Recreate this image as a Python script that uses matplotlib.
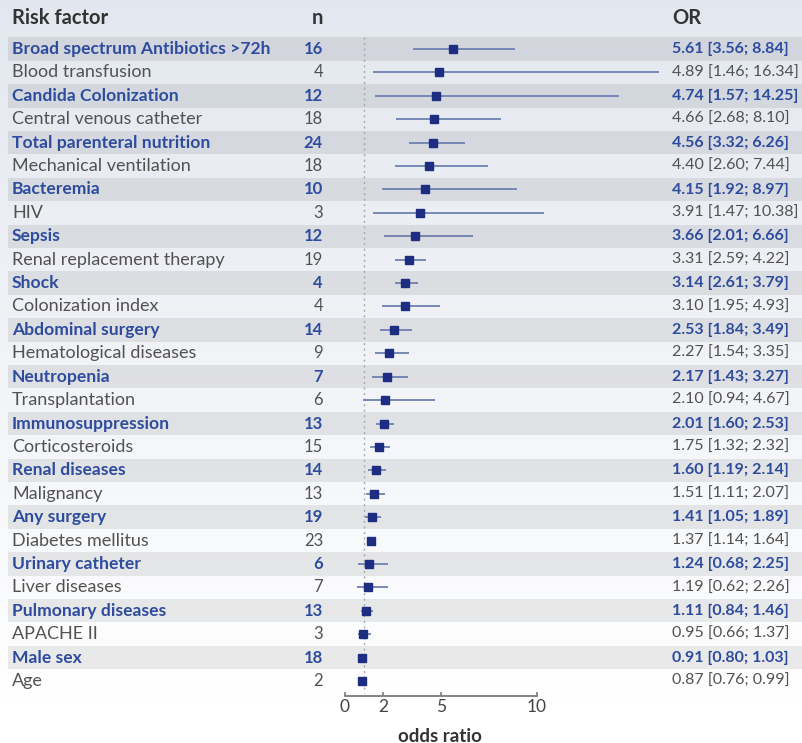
import matplotlib
matplotlib.use("Agg")
import matplotlib.pyplot as plt
import numpy as np
from matplotlib.patches import Rectangle
from matplotlib.transforms import blended_transform_factory

# ───────────────────────── data ───────────────────────── #

factors = [
    "Broad spectrum Antibiotics >72h", "Blood transfusion", "Candida Colonization",
    "Central venous catheter", "Total parenteral nutrition", "Mechanical ventilation",
    "Bacteremia", "HIV", "Sepsis", "Renal replacement therapy", "Shock",
    "Colonization index", "Abdominal surgery", "Hematological diseases", "Neutropenia",
    "Transplantation", "Immunosuppression", "Corticosteroids", "Renal diseases",
    "Malignancy", "Any surgery", "Diabetes mellitus", "Urinary catheter",
    "Liver diseases", "Pulmonary diseases", "APACHE II", "Male sex", "Age",
]
n_studies = [16, 4, 12, 18, 24, 18, 10, 3, 12, 19, 4, 4, 14, 9, 7, 6, 13, 15, 14,
             13, 19, 23, 6, 7, 13, 3, 18, 2]
odds = [5.61, 4.89, 4.74, 4.66, 4.56, 4.40, 4.15, 3.91, 3.66, 3.31, 3.14, 3.10, 2.53,
        2.27, 2.17, 2.10, 2.01, 1.75, 1.60, 1.51, 1.41, 1.37, 1.24, 1.19, 1.11, 0.95,
        0.91, 0.87]
ci_low = [3.56, 1.46, 1.57, 2.68, 3.32, 2.60, 1.92, 1.47, 2.01, 2.59, 2.61, 1.95, 1.84,
          1.54, 1.43, 0.94, 1.60, 1.32, 1.19, 1.11, 1.05, 1.14, 0.68, 0.62, 0.84, 0.66,
          0.80, 0.76]
ci_high = [8.84, 16.34, 14.25, 8.10, 6.26, 7.44, 8.97, 10.38, 6.66, 4.22, 3.79, 4.93,
           3.49, 3.35, 3.27, 4.67, 2.53, 2.32, 2.14, 2.07, 1.89, 1.64, 2.25, 2.26, 1.46,
           1.37, 1.03, 0.99]
x_ticks = [0, 2, 5, 10]

# ───────────────────────── style ───────────────────────── #

W, H = 802, 743
BLUE = "#2e4c9e"
GREY = "#525252"
HEAD = "#333333"
plt.rcParams["font.family"] = ["Lato", "DejaVu Sans"]

fig = plt.figure(figsize=(W / 100, H / 100), dpi=100)

# background gradient (blue-grey at top fading to white)
bg = fig.add_axes([0, 0, 1, 1], zorder=-10)
top = np.array([0.890, 0.906, 0.937])
grad = np.linspace(0, 1, 256)[:, None]
img = top * (1 - grad[..., None]) + np.ones(3) * grad[..., None]
bg.imshow(np.repeat(img, 2, axis=1), aspect="auto", extent=[0, 1, 0.05, 1])
bg.set_xlim(0, 1)
bg.set_ylim(0, 1)
bg.axis("off")

# forest axes: x=0 at 345px, x=10 at 537px; first row 49px, last row 681px
nrows = len(factors)
y_first, y_last, y_axis = 49, 681, 696
row_h = (y_last - y_first) / (nrows - 1)
ax = fig.add_axes([345 / W, (H - y_axis) / H, (537 - 345) / W, (y_axis - 8) / H])
ax.set_xlim(0, 10)
ax.set_ylim(nrows - 1 + (y_axis - y_last) / row_h, (8 - y_first) / row_h)
ax.patch.set_visible(False)

rows = np.arange(nrows)
tr = blended_transform_factory(fig.transFigure, ax.transData)

# stripes behind blue rows
for i in rows[::2]:
    ax.add_patch(Rectangle((8 / W, i - 0.5), 1, 1, transform=tr,
                           facecolor="black", alpha=0.08, lw=0,
                           clip_on=False, zorder=0))

# reference line at OR = 1
ax.plot([1, 1], [-0.5, nrows - 0.5], color="#a8a8a8", lw=1.0,
        ls=(0, (1.5, 2.5)), clip_on=False, zorder=1)

# CIs and point estimates
ax.hlines(rows, ci_low, ci_high, color="#6f80b0", lw=1.3, clip_on=False, zorder=2)
ax.plot(odds, rows, "s", color="#1c2d82", ms=5.3, clip_on=False, zorder=3)

# axis
for s in ("top", "right", "left"):
    ax.spines[s].set_visible(False)
ax.spines["bottom"].set_color("#7a7a7a")
ax.spines["bottom"].set_linewidth(1.3)
ax.set_yticks([])
ax.set_xticks(x_ticks)
ax.tick_params(axis="x", direction="in", length=3, width=1.2, color="#7a7a7a",
               labelsize=12.5, labelcolor="#444444", pad=2)
fig.text(440 / W, 7 / H, "odds ratio", fontsize=13.5, color=HEAD,
         fontweight="bold", ha="center", va="center")

# ───────────────────────── table text ───────────────────────── #

hy = (18 - y_first) / row_h
for x, txt, ha in [(12, "Risk factor", "left"), (323, "n", "right"), (672, "OR", "left")]:
    ax.text(x / W, hy, txt, transform=tr, fontsize=14.5, fontweight="bold",
            color=HEAD, va="center", ha=ha)

for i, (name, n, o, lo, hi) in enumerate(zip(factors, n_studies, odds, ci_low, ci_high)):
    blue = i % 2 == 0
    col = BLUE if blue else GREY
    wt = "bold" if blue else "normal"
    ax.text(12 / W, i, name, transform=tr, fontsize=12.6 if blue else 13, color=col,
            fontweight=wt, va="center", ha="left")
    ax.text(323 / W, i, str(n), transform=tr, fontsize=12, color=col,
            fontweight=wt, va="center", ha="right")
    ax.text(672 / W, i, f"{o:.2f} [{lo:.2f}; {hi:.2f}]", transform=tr,
            fontsize=11.5, color=col, fontweight=wt, va="center", ha="left")

fig.savefig("out.png", dpi=100)
